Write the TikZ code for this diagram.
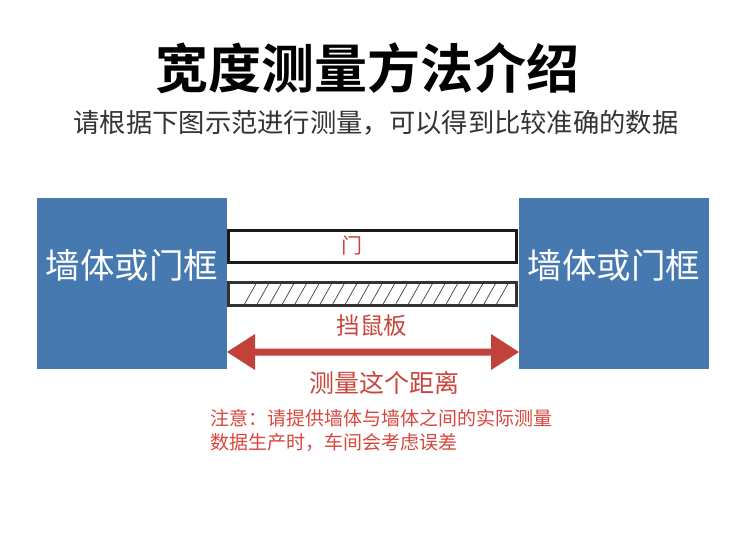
\documentclass[tikz,border=0pt]{standalone}
\usepackage{fontspec}
\newfontfamily\cjk{Noto Sans CJK SC}
\newfontfamily\cjkb{Noto Sans CJK SC Bold}
\definecolor{wallblue}{HTML}{4679B0}
\definecolor{redtxt}{HTML}{C8453C}
\definecolor{redarrow}{HTML}{C0423A}
\definecolor{notered}{HTML}{D8473E}
\definecolor{subgray}{HTML}{333333}
\begin{document}
\begin{tikzpicture}[x=1pt,y=-1pt,
  wall/.style={fill=wallblue,draw=none,text=white,font=\cjk\fontsize{34.5}{38}\selectfont,inner sep=0pt},
  redlabel/.style={text=redtxt,inner sep=0pt},
  bar/.style={draw=black!90,line width=3pt}
]
\useasboundingbox (0,0) rectangle (750,557);
\fill[white] (0,0) rectangle (750,557);
\node[inner sep=0pt,font=\cjkb\fontsize{53}{57}\selectfont] (title) at (367,68) {宽度测量方法介绍};
\node[inner sep=0pt,text=subgray,font=\cjk\fontsize{26.3}{29}\selectfont] (sub) at (376,123) {请根据下图示范进行测量，可以得到比较准确的数据};
% walls
\fill[wallblue] (37,198) rectangle (227,369);
\fill[wallblue] (519,198) rectangle (709,369);
\node[wall] (lw) at (132,265) {墙体或门框};
\node[wall] (rw) at (614,265) {墙体或门框};
% door
\draw[bar] (228.5,230.5) rectangle (516.5,262.5);
\node[redlabel,font=\cjk\fontsize{21}{24}\selectfont] (door) at (352,246) {门};
% board
\begin{scope}
\clip (230,283) rectangle (515,305);
\foreach \k in {0,...,20} {
  \draw[black!75,line width=0.7pt] ({244+12.6*\k},305) -- ({257+12.6*\k},282);
}
\end{scope}
\draw[draw=black!80,line width=3pt] (228.5,282.5) rectangle (516.5,305.5);
\node[redlabel,font=\cjk\fontsize{23.5}{26}\selectfont] (board) at (372,326) {挡鼠板};
% arrow
\coordinate (al) at (227,352);
\coordinate (ar) at (519,352);
\fill[redarrow] (al) -- (255,334) -- (255,348.5) -- (491,348.5) -- (491,334) -- (ar) -- (491,370) -- (491,355.5) -- (255,355.5) -- (255,370) -- cycle;
\node[redlabel,font=\cjk\fontsize{25}{28}\selectfont] (dist) at (384,383) {测量这个距离};
% notes
\node[anchor=west,inner sep=0pt,text=notered,font=\cjk\fontsize{19}{24}\selectfont] (n1) at (210,418) {注意：请提供墙体与墙体之间的实际测量};
\node[anchor=west,inner sep=0pt,text=notered,font=\cjk\fontsize{19}{24}\selectfont] (n2) at (210,442) {数据生产时，车间会考虑误差};
\end{tikzpicture}
\end{document}
